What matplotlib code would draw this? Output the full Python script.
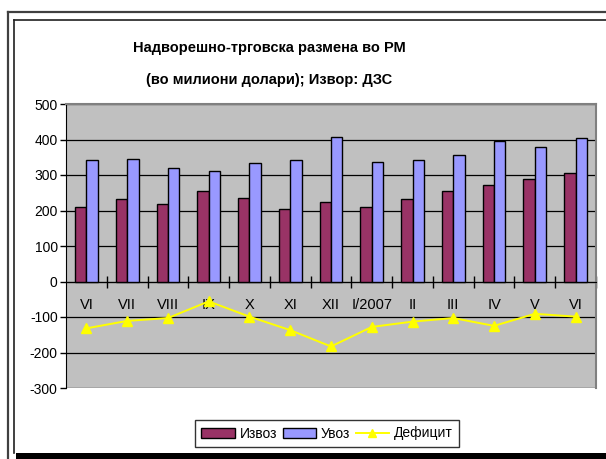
import matplotlib
matplotlib.use("Agg")
import matplotlib.pyplot as plt
from matplotlib.lines import Line2D
from matplotlib.patches import Rectangle

plt.rcParams['font.family'] = ['Liberation Sans', 'DejaVu Sans']
plt.rcParams['axes.unicode_minus'] = False

# податоци (во милиони долари)
months = ['VI', 'VII', 'VIII', 'IX', 'X', 'XI', 'XII', 'I/2007', 'II', 'III', 'IV', 'V', 'VI']
izvoz = [210, 231, 218, 254, 236, 205, 223, 210, 231, 254, 272, 289, 307]
uvoz = [342, 346, 320, 312, 333, 342, 408, 337, 342, 355, 395, 379, 404]
deficit = [-132, -111, -103, -56, -99, -137, -183, -128, -113, -103, -125, -91, -99]

W, H = 606, 459
fig = plt.figure(figsize=(W / 100, H / 100), dpi=100)

# рамки околу графиконот
def fx(x):
    return x / W

def fy(y):
    return 1 - y / H

fig.add_artist(Line2D([fx(7.5), fx(7.5)], [fy(11.5), 0], color='#404040', lw=1.6))
fig.add_artist(Line2D([fx(7.5), 1], [fy(11.5), fy(11.5)], color='#404040', lw=1.6))
fig.add_artist(Line2D([fx(14), fx(14)], [fy(19.5), fy(453)], color='#202020', lw=1.2))
fig.add_artist(Line2D([fx(14), 1], [fy(19.5), fy(19.5)], color='#202020', lw=1.2))
fig.add_artist(Rectangle((fx(16), 0), 1, fy(453), color='black', lw=0))

ax = fig.add_axes([66 / W, 1 - 388 / H, (596 - 66) / W, (388 - 104) / H])
ax.set_facecolor('#C0C0C0')

x = list(range(len(months)))
w = 0.28
b1 = ax.bar([i - w / 2 for i in x], izvoz, w, color='#993366', edgecolor='black', lw=1, zorder=3)
b2 = ax.bar([i + w / 2 for i in x], uvoz, w, color='#9999FF', edgecolor='black', lw=1, zorder=3)
l1, = ax.plot(x, deficit, color='#FFFF00', lw=1.4, marker='^', markersize=7, zorder=4)

ax.set_xlim(-0.5, len(months) - 0.5)
ax.set_ylim(-300, 500)
ax.set_yticks(range(-300, 501, 100))
ax.tick_params(axis='y', direction='out', length=4, width=1, labelsize=10, pad=2)
ax.yaxis.grid(True, color='black', lw=0.9, zorder=1)

# категориска оска на нула
ax.spines['bottom'].set_position(('data', 0))
ax.spines['bottom'].set_color('black')
ax.spines['left'].set_color('black')
ax.spines['top'].set_color('#808080')
ax.spines['right'].set_color('#808080')
ax.spines['top'].set_linewidth(1.5)
ax.spines['right'].set_linewidth(1.5)
ax.set_xticks([i + 0.5 for i in x])
ax.set_xticklabels([])
ax.tick_params(axis='x', which='major', direction='inout', length=8, width=1)
ax.set_xticks(x, minor=True)
ax.set_xticklabels(months, minor=True)
ax.tick_params(axis='x', which='minor', length=0, labelsize=10.5, pad=12)

fig.text(269 / W, fy(48), 'Надворешно-трговска размена во РМ', ha='center', va='center',
         fontsize=10.5, fontweight='bold')
fig.text(269 / W, fy(80), '(во милиони долари); Извор: ДЗС', ha='center', va='center',
         fontsize=10.5, fontweight='bold')

leg = fig.legend([b1, b2, l1], ['Извоз', 'Увоз', 'Дефицит'], loc='center',
                 bbox_to_anchor=(327 / W, fy(433.5)), ncol=3, frameon=True,
                 fancybox=False, edgecolor='black', fontsize=10, handlelength=2.4,
                 handleheight=0.7, columnspacing=0.4, handletextpad=0.35, borderpad=0.45,
                 markerscale=0.9)
leg.get_frame().set_linewidth(1)

fig.savefig('out.png', dpi=100)
